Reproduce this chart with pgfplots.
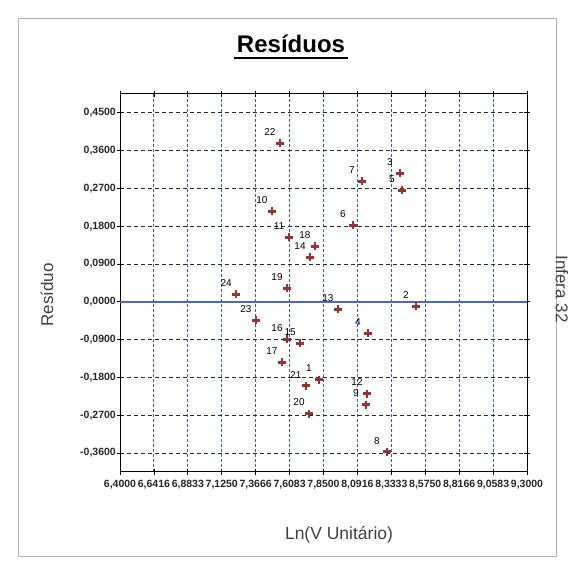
\documentclass[border=0pt]{standalone}
\usepackage{pgfplots}
\pgfplotsset{compat=1.18}
\usepackage{pgfplotstable}
\usepackage{fontspec}
\setmainfont{Liberation Sans}
\definecolor{mk}{RGB}{155,50,50}
\definecolor{zl}{RGB}{70,105,190}
\definecolor{gx}{RGB}{55,85,200}
\pgfplotstableread{
x y lab
7.818 -0.1848 1
8.509 -0.0107 2
8.395 0.3063 3
8.167 -0.0751 4
8.409 0.2658 5
8.060 0.1824 6
8.124 0.2873 7
8.302 -0.3564 8
8.153 -0.2444 9
7.483 0.2158 10
7.604 0.1538 11
8.160 -0.2181 12
7.953 -0.0179 13
7.754 0.1061 14
7.683 -0.0989 15
7.590 -0.0894 16
7.554 -0.1442 17
7.789 0.1323 18
7.590 0.0322 19
7.747 -0.2658 20
7.725 -0.1991 21
7.540 0.3779 22
7.369 -0.0441 23
7.227 0.0179 24
}\resid
\begin{document}
\begin{tikzpicture}
\useasboundingbox (0,0) rectangle (572pt,579pt);
\draw[gray!60] (18pt,23pt) rectangle (556pt,561pt);
\begin{axis}[
  at={(120pt,107pt)}, anchor=south west,
  width=407pt, height=378pt, scale only axis,
  xmin=6.4, xmax=9.3, ymin=-0.405, ymax=0.495,
  xtick={6.4,6.641667,6.883333,7.125,7.366667,7.608333,7.85,8.091667,8.333333,8.575,8.816667,9.058333,9.3},
  xticklabels={{6,4000},{6,6416},{6,8833},{7,1250},{7,3666},{7,6083},{7,8500},{8,0916},{8,3333},{8,5750},{8,8166},{9,0583},{9,3000}},
  ytick={-0.36,-0.27,-0.18,-0.09,0,0.09,0.18,0.27,0.36,0.45},
  yticklabel style={/pgf/number format/fixed, /pgf/number format/fixed zerofill, /pgf/number format/precision=4, /pgf/number format/use comma, /pgf/number format/assume math mode=true, inner xsep=1pt},
  ticklabel style={font=\fontsize{10.5}{11}\selectfont\bfseries, text=black!85},
  xticklabel style={inner xsep=0pt, yshift=-2pt},
  tick align=center, major tick length=6pt,
  tick style={black, thick},
  grid=major,
  x grid style={dash pattern=on 2.5pt off 2.5pt, gx, line width=0.9pt},
  y grid style={dash pattern=on 4pt off 3pt, black!85, line width=0.8pt},
  axis line style={black, line width=1pt},
  clip=false,
]
\addplot[zl, line width=1.4pt, forget plot] coordinates {(6.4,0) (9.3,0)};
\addplot[only marks, mark=+, mark size=4pt, line width=2.8pt, color=mk,
  point meta=explicit symbolic,
  nodes near coords,
  every node near coord/.append style={anchor=center, xshift=-10pt, yshift=11pt, font=\fontsize{10}{11}\selectfont, text=black}
] table[x=x, y=y, meta=lab] {\resid};
\end{axis}
\node[font=\fontsize{24}{26}\selectfont\bfseries] at (291pt,535pt) {Resíduos};
\draw[line width=1.8pt] (234pt,521pt) -- (348pt,521pt);
\node[font=\fontsize{17}{18}\selectfont, text=black!75, rotate=90] at (47pt,284pt) {Resíduo};
\node[font=\fontsize{17}{18}\selectfont, text=black!75, rotate=-90] at (562pt,290pt) {Infera 32};
\node[font=\fontsize{17.5}{19}\selectfont, text=black!75] at (339pt,44pt) {Ln(V Unitário)};
\end{tikzpicture}
\end{document}
